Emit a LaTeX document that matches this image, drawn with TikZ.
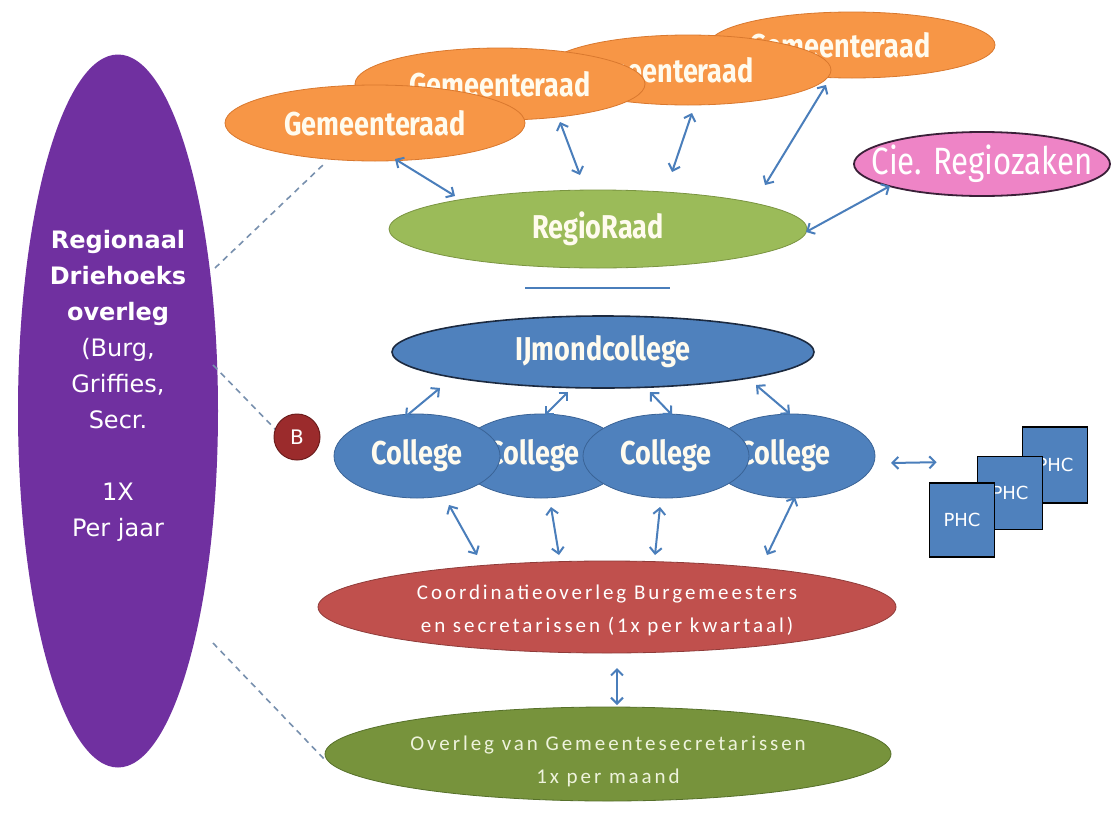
\documentclass[tikz,border=0pt]{standalone}
\usepackage{fontspec}
\usetikzlibrary{shapes.geometric,arrows.meta,calc}
\setmainfont{DejaVu Sans}
\newfontfamily\cond[FakeStretch=0.82]{Fira Sans}
\newfontfamily\calib[LetterSpace=14]{Carlito}
\newfontfamily\verd{DejaVu Sans}

\definecolor{cream}{HTML}{FFFBEE}
\definecolor{orangefill}{HTML}{F79646}
\definecolor{orangeline}{HTML}{D9782E}
\definecolor{regiofill}{HTML}{9BBB59}
\definecolor{regioline}{HTML}{7A9441}
\definecolor{piefill}{HTML}{EE84C6}
\definecolor{pieline}{HTML}{3A2038}
\definecolor{bluefill}{HTML}{4F81BD}
\definecolor{blueline}{HTML}{3A6396}
\definecolor{darkline}{HTML}{1C2A40}
\definecolor{arrowblue}{HTML}{4A7EBB}
\definecolor{bfill}{HTML}{9B2B2C}
\definecolor{bline}{HTML}{6C1C1C}
\definecolor{redfill}{HTML}{C0504D}
\definecolor{redline}{HTML}{8F3B39}
\definecolor{olivefill}{HTML}{77933C}
\definecolor{oliveline}{HTML}{56702A}
\definecolor{olivetext}{HTML}{EEF3DC}
\definecolor{purplefill}{HTML}{7030A0}
\definecolor{dashgray}{HTML}{7890AE}

\tikzset{
  oval/.style={ellipse, inner sep=0pt, line width=0.8pt},
  boldtxt/.style={text=cream, font=\cond\bfseries\fontsize{33}{36}\selectfont, inner sep=0pt},
  raad/.style={oval, fill=orangefill, draw=orangeline},
  collegeoval/.style={oval, fill=bluefill, draw=blueline,
    minimum width=166pt, minimum height=84pt,
    label={[boldtxt, xshift=#1]center:College}},
  collegeoval/.default=0pt,
  phcbox/.style={rectangle, fill=bluefill, draw=black, line width=1.6pt,
    minimum width=65pt, minimum height=75pt, inner sep=0pt, text=white,
    font=\verd\fontsize{18}{20}\selectfont},
  meettxt/.style={align=center, inner sep=0pt, font=\calib\fontsize{21}{33}\selectfont},
  biarrow/.style={arrowblue, line width=2pt,
    {Straight Barb[length=6pt,width=12pt]}-{Straight Barb[length=6pt,width=12pt]}},
  linkdash/.style={dashgray, line width=1.6pt, dash pattern=on 6pt off 5pt},
}

\begin{document}
\begin{tikzpicture}[x=1pt,y=-1pt]
\useasboundingbox (0,0) rectangle (1114,814);
\fill[white] (0,0) rectangle (1114,814);

% left column: yearly triangle meeting
\node[oval, fill=purplefill, minimum width=200pt, minimum height=713pt] (drie) at (118,411) {};
\node[text=white, align=center, inner sep=0pt, font=\verd\fontsize{24}{36}\selectfont,
  anchor=north] (drietext) at (118,230)
  {\textbf{Regionaal}\\ \textbf{Driehoeks}\\ \textbf{overleg}\\ (Burg,\\ Griffies,\\ Secr.\\[36pt] 1X\\ Per jaar};

% dashed links from the triangle meeting (behind the other shapes)
\coordinate (gemfoot) at (324,164);
\coordinate (secrfoot) at (326,761);
\draw[linkdash] ($(drie.center)+(97,-143)$) -- (gemfoot);
\draw[linkdash] ($(drie.center)+(95,-46)$) -- (276,430);
\draw[linkdash] ($(drie.center)+(95,232)$) -- (secrfoot);

% municipal councils, back to front
\node[raad, minimum width=286pt, minimum height=66pt,
  label={[boldtxt, xshift=-12pt]center:Gemeenteraad}] (gem4) at (852,45) {};
\node[raad, minimum width=286pt, minimum height=70pt,
  label={[boldtxt, xshift=-25pt]center:Gemeenteraad}] (gem3) at (688,70) {};
\node[raad, minimum width=290pt, minimum height=72pt,
  label={[boldtxt]center:Gemeenteraad}] (gem2) at (500,84) {};
\node[raad, minimum width=300pt, minimum height=76pt,
  label={[boldtxt]center:Gemeenteraad}] (gem1) at (375,123) {};

% regional council and committee
\node[oval, fill=regiofill, draw=regioline, minimum width=418pt, minimum height=78pt,
  label={[boldtxt]center:RegioRaad}] (regio) at (598,229) {};
\node[oval, fill=piefill, draw=pieline, line width=1.8pt, minimum width=256pt,
  minimum height=64pt,
  label={[text=white, inner sep=0pt, font=\cond\fontsize{38}{40}\selectfont]center:Cie. Regiozaken}]
  (cie) at (982,164) {};

\draw[biarrow] ($(gem1.center)+(20,36)$) -- ($(regio.center)+(-143,-33)$);
\draw[biarrow] ($(gem2.center)+(60,38)$) -- ($(regio.center)+(-18,-54)$);
\draw[biarrow] ($(gem3.center)+(4,43)$) -- ($(regio.center)+(74,-57)$);
\draw[biarrow] ($(gem4.center)+(-26,40)$) -- ($(regio.center)+(167,-44)$);
\draw[biarrow] ($(regio.center)+(208,3)$) -- ($(cie.center)+(-92,22)$);

% separator
\coordinate (sepL) at (525,288);
\coordinate (sepR) at (670,288);
\draw[arrowblue, line width=1.6pt] (sepL) -- (sepR);

% executive boards
\node[oval, fill=bluefill, draw=darkline, line width=1.6pt, minimum width=422pt,
  minimum height=72pt, label={[boldtxt]center:IJmondcollege}] (ijmond) at (603,352) {};

\node[collegeoval=-7pt] (col4) at (792,456) {};
\node[collegeoval=-7pt] (col2) at (541,456) {};
\node[collegeoval] (col3) at (666,456) {};
\node[collegeoval] (col1) at (417,456) {};

\node[circle, fill=bfill, draw=bline, line width=1pt, minimum size=46pt, inner sep=0pt,
  text=white, font=\verd\fontsize{20}{22}\selectfont] (bnode) at (297,437) {B};

\draw[biarrow] ($(col1.center)+(-12,-39)$) -- ($(ijmond.center)+(-163,36)$);
\draw[biarrow] ($(col2.center)+(4,-41)$) -- ($(ijmond.center)+(-35,40)$);
\draw[biarrow] ($(ijmond.center)+(47,40)$) -- ($(col3.center)+(6,-41)$);
\draw[biarrow] ($(ijmond.center)+(153,33)$) -- ($(col4.center)+(-2,-42)$);

% regional committees
\node[phcbox, minimum height=76pt] (phc3) at (1055,465) {PHC};
\node[phcbox, minimum height=73pt] (phc2) at (1010,493) {PHC};
\node[phcbox, minimum height=74pt] (phc1) at (962,520) {PHC};
\draw[biarrow] ($(col4.center)+(99,7)$) -- ($(phc1.north west)+(8,-20)$);

% coordination and secretaries meetings
\node[oval, fill=redfill, draw=redline, minimum width=578pt, minimum height=92pt,
  label={[meettxt, text=white, yshift=-3pt]center:Coordinatieoverleg Burgemeesters\\ en secretarissen (1x per kwartaal)}]
  (coord) at (607,607) {};
\node[oval, fill=olivefill, draw=oliveline, minimum width=566pt, minimum height=94pt,
  label={[meettxt, text=olivetext, yshift=-7pt]center:Overleg van Gemeentesecretarissen\\ 1x per maand}]
  (secr) at (608,754) {};

\draw[biarrow] ($(col1.center)+(32,49)$) -- ($(coord.center)+(-130,-52)$);
\draw[biarrow] ($(col2.center)+(10,51)$) -- ($(coord.center)+(-48,-52)$);
\draw[biarrow] ($(col3.center)+(-6,51)$) -- ($(coord.center)+(48,-52)$);
\draw[biarrow] ($(col4.center)+(3,41)$) -- ($(coord.center)+(160,-52)$);
\draw[biarrow] ($(coord.center)+(10,61)$) -- ($(secr.center)+(9,-49)$);
\end{tikzpicture}
\end{document}
